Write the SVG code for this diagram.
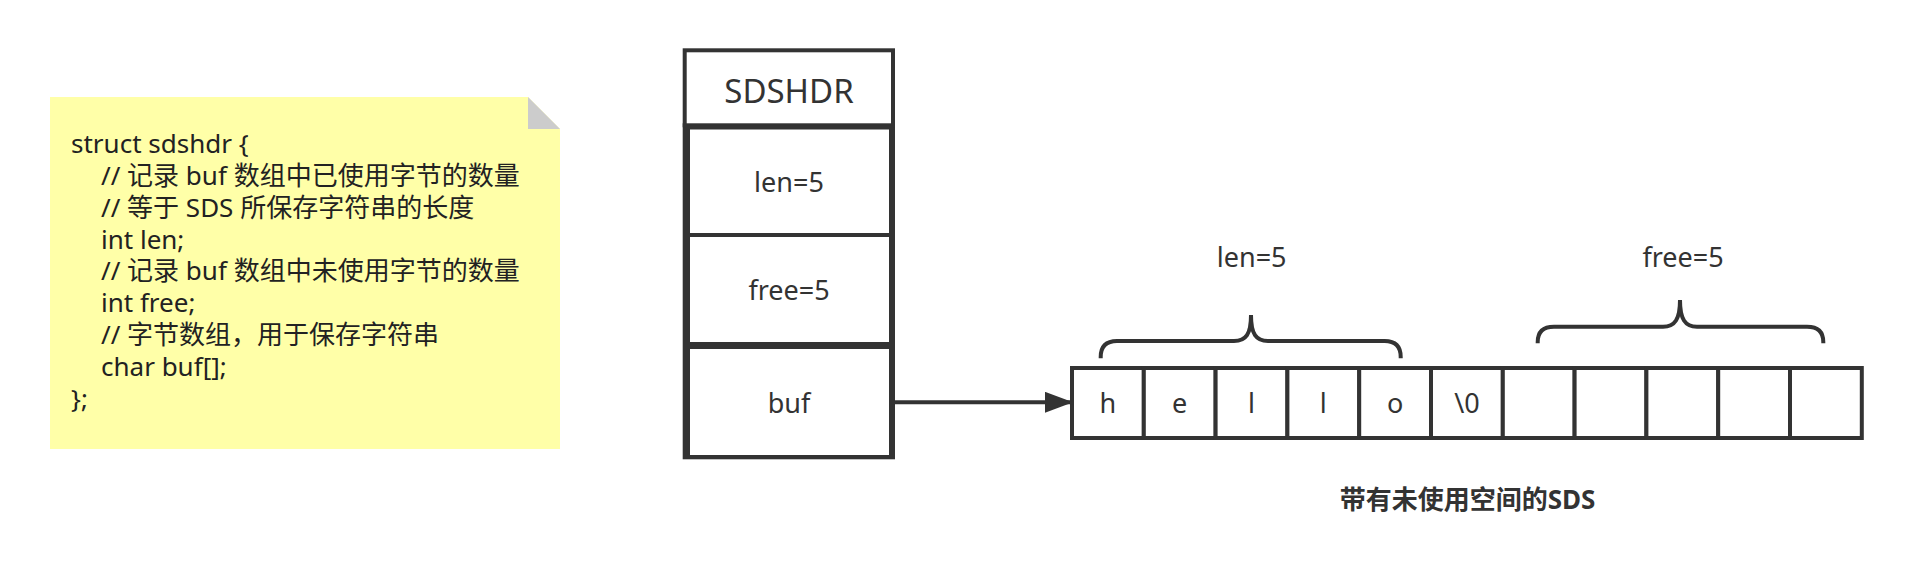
<svg xmlns="http://www.w3.org/2000/svg" width="1912" height="577" viewBox="0 0 1912 577">
<defs>
<style>
.t{font-family:"Noto Sans","Noto Sans CJK SC",sans-serif;fill:#333333}
.lbl{font-size:27px;text-anchor:middle}
.note{font-size:26px;fill:#222222}
.box{fill:#ffffff;stroke:#333333;stroke-width:4}
.line{fill:none;stroke:#333333;stroke-width:4}
</style>
<marker id="arr" markerUnits="userSpaceOnUse" markerWidth="29" markerHeight="22" refX="28" refY="10.5" orient="auto">
<path d="M0,0 L28,10.5 L0,21 Z" fill="#333333"/>
</marker>
</defs>
<rect width="1912" height="577" fill="#ffffff"/>

<g id="note">
<path d="M50,97 L528,97 L560,129 L560,449 L50,449 Z" fill="#ffffa8"/>
<path d="M528,97 L528,129 L560,129 Z" fill="#cccccc"/>
<text class="t note"><tspan x="71" y="153.3">struct sdshdr {</tspan><tspan x="101" y="185">// 记录 buf 数组中已使用字节的数量</tspan><tspan x="101" y="216.8">// 等于 SDS 所保存字符串的长度</tspan><tspan x="101" y="248.6">int len;</tspan><tspan x="101" y="280.4">// 记录 buf 数组中未使用字节的数量</tspan><tspan x="101" y="312.2">int free;</tspan><tspan x="101" y="344">// 字节数组，用于保存字符串</tspan><tspan x="101" y="375.8">char buf[];</tspan><tspan x="71" y="407.6">};</tspan></text>
</g>

<g id="sdshdr">
<rect class="box" x="684.7" y="125.3" width="208.3" height="332"/>
<rect class="box" x="684.7" y="50.3" width="208.3" height="75"/>
<text class="t" x="789" y="103.3" font-size="33" text-anchor="middle">SDSHDR</text>
</g>
<g id="row-len">
<rect class="box" x="688" y="127.5" width="203" height="107.5"/>
<text class="t lbl" x="789" y="191.7">len=5</text>
</g>
<g id="row-free">
<rect class="box" x="688" y="235" width="203" height="109"/>
<text class="t lbl" x="789" y="300">free=5</text>
</g>
<g id="row-buf">
<rect class="box" x="688" y="347" width="203" height="110"/>
<text class="t lbl" x="789" y="412.7">buf</text>
</g>

<g id="buffer">
<rect class="box" x="1072" y="368" width="71.8" height="70"/>
<rect class="box" x="1143.8" y="368" width="71.8" height="70"/>
<rect class="box" x="1215.6" y="368" width="71.8" height="70"/>
<rect class="box" x="1287.4" y="368" width="71.8" height="70"/>
<rect class="box" x="1359.2" y="368" width="71.8" height="70"/>
<rect class="box" x="1431" y="368" width="71.8" height="70"/>
<rect class="box" x="1502.8" y="368" width="71.8" height="70"/>
<rect class="box" x="1574.6" y="368" width="71.8" height="70"/>
<rect class="box" x="1646.4" y="368" width="71.8" height="70"/>
<rect class="box" x="1718.2" y="368" width="71.8" height="70"/>
<rect class="box" x="1790" y="368" width="71.8" height="70"/>
<text class="t lbl" x="1107.9" y="413.3">h</text>
<text class="t lbl" x="1179.7" y="413.3">e</text>
<text class="t lbl" x="1251.5" y="413.3">l</text>
<text class="t lbl" x="1323.3" y="413.3">l</text>
<text class="t lbl" x="1395.1" y="413.3">o</text>
<text class="t lbl" x="1466.9" y="413.3">\0</text>
</g>

<g id="brace-len">
<path class="line" d="M1100.7,358.3 L1100.7,357 Q1100.7,341 1117,341 L1234,341 C1246,341 1251,334 1251,315 C1251,334 1256,341 1268,341 L1384.7,341 Q1400.7,341 1400.7,357 L1400.7,358.3"/>
<text class="t lbl" x="1251.7" y="266.7">len=5</text>
</g>
<g id="brace-free">
<path class="line" d="M1537.7,343.3 L1537.7,342 Q1537.7,326.7 1554,326.7 L1663,326.7 C1675,326.7 1680,319 1680,300 C1680,319 1685,326.7 1697,326.7 L1807,326.7 Q1823.3,326.7 1823.3,342 L1823.3,343.3"/>
<text class="t lbl" x="1683" y="266.7">free=5</text>
</g>

<g id="caption">
<text class="t" x="1467.5" y="509.3" font-size="26" font-weight="bold" text-anchor="middle">带有未使用空间的SDS</text>
</g>

<g id="connectors">
<line class="line" x1="893" y1="402.3" x2="1073" y2="402.3" marker-end="url(#arr)"/>
</g>
</svg>
